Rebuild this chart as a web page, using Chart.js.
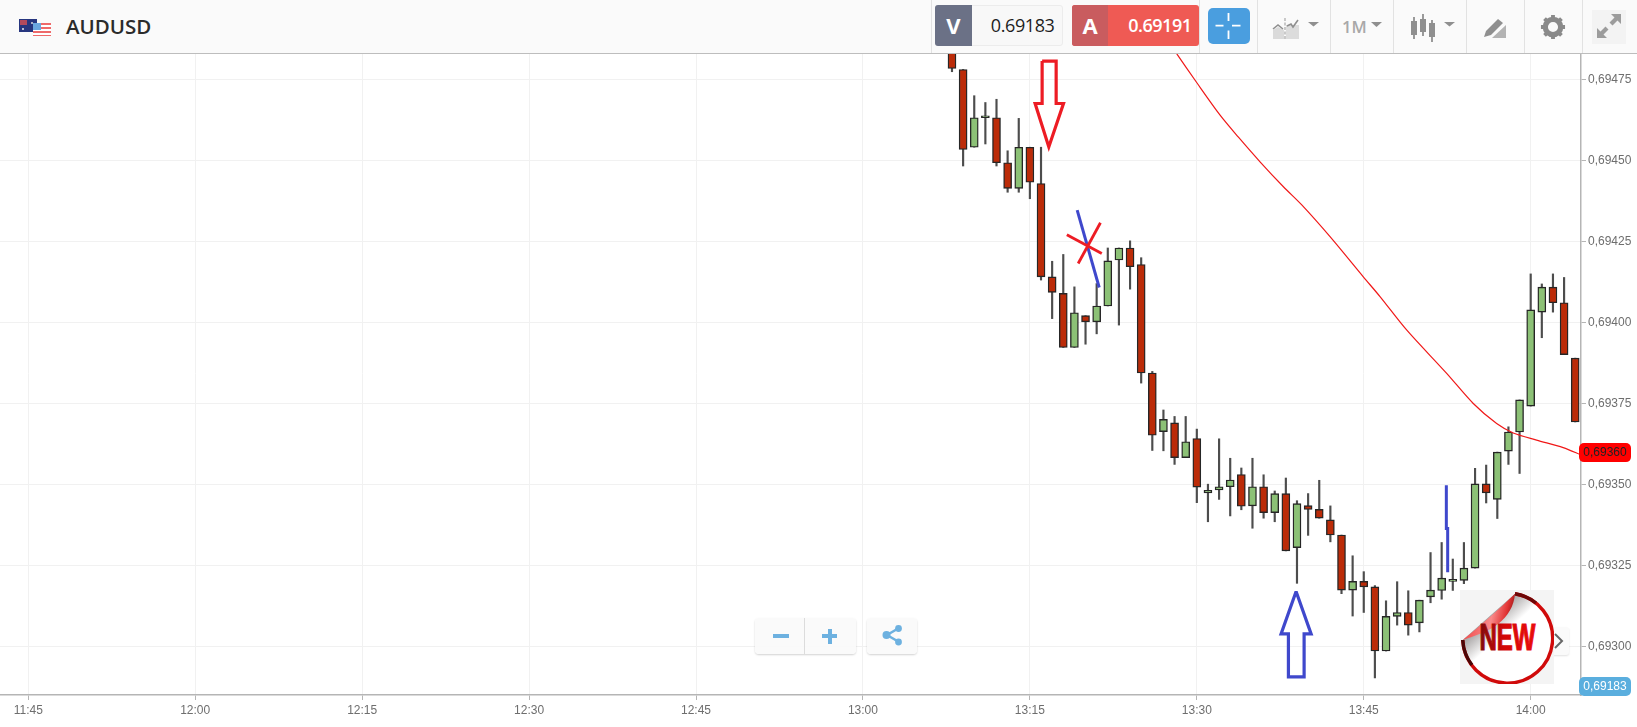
<!DOCTYPE html>
<html>
<head>
<meta charset="utf-8">
<title>AUDUSD</title>
<script src="https://cdn.jsdelivr.net/npm/chart.js@4"></script>
<style>
    html, body { margin: 0; padding: 0; background: #fff; width: 1637px; height: 727px; overflow: hidden; }
    canvas { position: absolute; left: 0; top: 0; }
    .ui { position: absolute; box-sizing: border-box; font-family: "Open Sans", sans-serif; }
    .sep { position: absolute; top: 0; width: 1px; height: 53px; background: #e2e2e2; }
    #bar { left: 0; top: 0; width: 1637px; height: 54px; background: #fafafa; border-bottom: 1px solid #bdbdbd; }
    #sym { left: 66px; top: 12px; font-size: 20.5px; font-weight: 600; color: #2b2b2b; }
</style>
</head>
<body>
<canvas id="chart" width="1637" height="727"></canvas>

<div class="ui" id="bar"></div>
<svg class="ui" style="left:18px;top:17px" width="36" height="21">
    <rect x="1" y="2" width="18" height="13" fill="#27367f"/>
    <rect x="2" y="3" width="7" height="5" fill="#b34a5c"/>
    <circle cx="14" cy="6" r="1" fill="#ddd"/><circle cx="5" cy="12" r="1" fill="#eee"/>
    <rect x="15" y="6" width="18" height="13" fill="#fff"/>
    <rect x="15" y="6" width="18" height="2" fill="#ee6a6a"/>
    <rect x="15" y="10" width="18" height="2" fill="#ee6a6a"/>
    <rect x="15" y="14" width="18" height="2" fill="#ee6a6a"/>
    <rect x="15" y="18" width="18" height="1" fill="#ee6a6a"/>
    <rect x="15" y="6" width="8" height="7" fill="#6aa7e0"/>
</svg>
<div class="ui" id="sym">AUDUSD</div>

<div class="sep" style="left:931px"></div>
<div class="ui" style="left:935px;top:5px;width:128px;height:41px;background:#f8f8f8;border:1px solid #ececec;border-radius:3px"></div>
<div class="ui" style="left:935px;top:5px;width:37px;height:41px;background:#6b7186;border-radius:3px 0 0 3px;color:#fff;font-size:22px;font-weight:700;text-align:center;line-height:41px">V</div>
<div class="ui" style="left:974px;top:5px;width:80.5px;height:41px;color:#1e1e1e;font-size:18px;letter-spacing:-.4px;text-align:right;line-height:40px">0.69183</div>
<div class="ui" style="left:1072px;top:5px;width:127px;height:41px;background:#ef5a54;border-radius:3px"></div>
<div class="ui" style="left:1072px;top:5px;width:36px;height:41px;background:#c95c5f;border-radius:3px 0 0 3px;color:#fff;font-size:22px;font-weight:700;text-align:center;line-height:41px">A</div>
<div class="ui" style="left:1109px;top:5px;width:82.5px;height:41px;color:#fff;font-size:18px;font-weight:600;letter-spacing:-.5px;text-align:right;line-height:40px">0.69191</div>
<div class="sep" style="left:1199px"></div>
<svg class="ui" style="left:1208px;top:8px" width="42" height="36">
    <rect width="42" height="36" rx="5" fill="#4a9edf"/>
    <path d="M20.5 5v8M20.5 22.5v8.5M7.5 17.7h8M24 17.7h8.5" stroke="#fff" stroke-width="1.8"/>
</svg>
<div class="sep" style="left:1257px"></div>
<svg class="ui" style="left:1272px;top:16px" width="50" height="26">
    <path d="M1 23v-9l5-3 6 3v9z" fill="#dadada"/><path d="M14 23V9h13v14z" fill="#dcdcdc"/>
    <path d="M1 13l5-4 5 4" stroke="#8f8f8f" stroke-width="1.6" fill="none"/>
    <path d="M15 10l4-2 2 3 5-7" stroke="#8f8f8f" stroke-width="1.6" fill="none"/>
    <path d="M13 2v22" stroke="#a8a8a8" stroke-width="1.2" stroke-dasharray="3 1.5"/>
    <path d="M36 6h11l-5.5 4.5z" fill="#8f8f8f"/>
</svg>
<div class="sep" style="left:1330px"></div>
<div class="ui" style="left:1342px;top:15px;font-size:16.5px;font-weight:600;color:#a8a8a8">1M</div>
<svg class="ui" style="left:1370px;top:21px" width="13" height="7"><path d="M1 1h11l-5.5 5z" fill="#8f8f8f"/></svg>
<div class="sep" style="left:1393px"></div>
<svg class="ui" style="left:1410px;top:13px" width="48" height="30">
    <path d="M4 4v22M13 1v22M22 7v22" stroke="#8f8f8f" stroke-width="1.8"/>
    <rect x="1" y="8" width="6" height="14" fill="#8f8f8f"/><rect x="10" y="6" width="6" height="13" fill="#8f8f8f"/><rect x="19" y="10" width="6" height="14" fill="#8f8f8f"/>
    <path d="M34 9h11l-5.500 4.500z" fill="#8f8f8f"/>
</svg>
<div class="sep" style="left:1466px"></div>
<svg class="ui" style="left:1483px;top:16px" width="26" height="24">
    <path d="M1 21l2-6L15 3l5 4-12 12z" fill="#8f8f8f"/>
    <path d="M9 22l14-13v13z" fill="#b3b3b3"/>
</svg>
<div class="sep" style="left:1524px"></div>
<svg class="ui" style="left:1540px;top:13.500px" width="26" height="26" viewBox="0 0 27 27">
    <circle cx="13.5" cy="13.5" r="8" fill="none" stroke="#8a8a8a" stroke-width="5.5"/>
    <path d="M13.5 1v4M13.5 22v4M1 13.5h4M22 13.5h4M4.7 4.7l2.8 2.8M19.5 19.5l2.8 2.8M22.3 4.7l-2.8 2.8M7.500 19.5l-2.8 2.8" stroke="#8a8a8a" stroke-width="4"/>
</svg>
<div class="sep" style="left:1582px"></div>
<div class="ui" style="left:1592px;top:10px;width:34px;height:34px;background:#f3f3f3"></div>
<svg class="ui" style="left:1595px;top:12px" width="28" height="28">
    <path d="M16 2h10v10l-3.500-3.500-5 5-3-3 5-5zM12 26H2V16l3.500 3.500 5-5 3 3-5 5z" fill="#9c9c9c"/>
</svg>

<div class="ui" style="left:755px;top:618px;width:101px;height:36px;background:rgba(250,250,250,.92);border-radius:4px;box-shadow:0 1px 2px rgba(0,0,0,.18)"></div>
<div class="ui" style="left:804px;top:618px;width:1px;height:36px;background:#dcdcdc"></div>
<div class="ui" style="left:773px;top:634px;width:16px;height:4px;background:#6db1e0"></div>
<div class="ui" style="left:822px;top:634px;width:15px;height:4px;background:#6db1e0"></div>
<div class="ui" style="left:827.5px;top:628.5px;width:4px;height:15px;background:#6db1e0"></div>
<div class="ui" style="left:867px;top:618px;width:50px;height:36px;background:rgba(250,250,250,.92);border-radius:4px;box-shadow:0 1px 2px rgba(0,0,0,.18)"></div>
<svg class="ui" style="left:880px;top:624px" width="24" height="24">
    <path d="M19 4L7 11l12 7" stroke="#6db1e0" stroke-width="2.5" fill="none"/>
    <circle cx="18.5" cy="4.5" r="3.4" fill="#6db1e0"/><circle cx="6.5" cy="11" r="4" fill="#6db1e0"/><circle cx="18.5" cy="18" r="3.4" fill="#6db1e0"/>
</svg>
<div class="ui" style="left:1540px;top:627px;width:29px;height:28px;background:#fafafa;border-radius:3px;box-shadow:0 1px 2px rgba(0,0,0,.12)"></div>
<svg class="ui" style="left:1552px;top:633px" width="14" height="16"><path d="M3 1l7 7-7 7" stroke="#666" stroke-width="2" fill="none"/></svg>

<svg class="ui" style="left:1460px;top:590px" width="94" height="94" viewBox="0 0 94 94">
    <defs>
        <linearGradient id="disc" x1="0.1" y1="0.15" x2="0.6" y2="0.7"><stop offset="0.2" stop-color="#8e8a8a"/><stop offset="0.62" stop-color="#fff"/></linearGradient>
        <linearGradient id="curl" x1="0" y1="0.4" x2="1" y2="0.6"><stop offset="0" stop-color="#ee3a3a"/><stop offset=".55" stop-color="#f98a8a"/><stop offset=".8" stop-color="#e23434"/><stop offset="1" stop-color="#7d0b0b"/></linearGradient>
        <linearGradient id="word" x1="0" y1="0" x2="1" y2="0"><stop offset="0" stop-color="#7f0a0a"/><stop offset=".45" stop-color="#d40808"/><stop offset="1" stop-color="#ea0c0c"/></linearGradient>
    </defs>
    <rect width="94" height="94" fill="#f4f4f4"/>
    <path d="M2.7 50A45 45 0 1 0 55 3.700z" fill="url(#disc)"/>
    <path d="M2.7 50A45 45 0 1 0 55 3.700" fill="none" stroke="#d00a0a" stroke-width="3.400"/>
    <path d="M2.7 50A45 45 0 0 0 12 75" fill="none" stroke="#4a0505" stroke-width="3.400"/>
    <path d="M55 3.700A45 45 0 0 1 76 13" fill="none" stroke="#6d0707" stroke-width="3.400"/>
    <path d="M2.7 50C20 36 38 20 55 3.700C54 16 48 26 38 34C28 42 14 46 2.7 50z" fill="url(#curl)"/>
    <text x="47.500" y="60" text-anchor="middle" font-family="Liberation Sans Narrow, Liberation Sans" font-weight="700" font-size="36" fill="url(#word)" stroke="url(#word)" stroke-width="1.200" textLength="56" lengthAdjust="spacingAndGlyphs">NEW</text>
</svg>

<script>
// candles, one per minute (minutes since midnight)
const candleMinutes = [788, 789, 790, 791, 792, 793, 794, 795, 796, 797, 798, 799, 800, 801, 802, 803, 804, 805, 806, 807, 808, 809, 810, 811, 812, 813, 814, 815, 816, 817, 818, 819, 820, 821, 822, 823, 824, 825, 826, 827, 828, 829, 830, 831, 832, 833, 834, 835, 836, 837, 838, 839, 840, 841, 842, 843, 844];
const opens = [0.69486, 0.694781, 0.694541, 0.694632, 0.694632, 0.694493, 0.694414, 0.694541, 0.694429, 0.694141, 0.69409, 0.693923, 0.694021, 0.694002, 0.694051, 0.694193, 0.69423, 0.694179, 0.693844, 0.693663, 0.69369, 0.693583, 0.693642, 0.693474, 0.693483, 0.693493, 0.693531, 0.693434, 0.693493, 0.693413, 0.693472, 0.693305, 0.693435, 0.693423, 0.693391, 0.693344, 0.693174, 0.693201, 0.693184, 0.692986, 0.693093, 0.693105, 0.693073, 0.693153, 0.693173, 0.693201, 0.693204, 0.693242, 0.693502, 0.693454, 0.693603, 0.693662, 0.693742, 0.694032, 0.694109, 0.694061, 0.69389];
const closes = [0.694784, 0.694534, 0.694632, 0.694632, 0.694493, 0.694414, 0.694541, 0.694433, 0.694141, 0.694093, 0.693923, 0.69403, 0.694002, 0.694051, 0.69419, 0.69423, 0.694172, 0.693844, 0.693652, 0.693701, 0.693583, 0.693632, 0.693492, 0.693482, 0.693493, 0.693514, 0.693433, 0.693493, 0.693413, 0.693472, 0.693295, 0.693441, 0.693423, 0.693396, 0.693344, 0.693174, 0.693201, 0.693184, 0.692986, 0.693093, 0.693105, 0.693066, 0.693143, 0.693174, 0.693211, 0.693201, 0.693242, 0.693502, 0.693474, 0.6936, 0.693662, 0.693761, 0.694039, 0.694109, 0.694061, 0.693901, 0.693693];
const highs = [0.69487, 0.694781, 0.6947, 0.694679, 0.694689, 0.69453, 0.69463, 0.694541, 0.694541, 0.694189, 0.69421, 0.69411, 0.694021, 0.69412, 0.69423, 0.69423, 0.694252, 0.6942, 0.693849, 0.69373, 0.69371, 0.69371, 0.693671, 0.693501, 0.693641, 0.693581, 0.693551, 0.693581, 0.69353, 0.69348, 0.69352, 0.69345, 0.693472, 0.693513, 0.693434, 0.693344, 0.69328, 0.693231, 0.693188, 0.693141, 0.6932, 0.693172, 0.693143, 0.69329, 0.693321, 0.69327, 0.693321, 0.69355, 0.69356, 0.6936, 0.693678, 0.693761, 0.69415, 0.694119, 0.69415, 0.694139, 0.69389];
const lows = [0.694774, 0.694483, 0.694541, 0.694551, 0.694483, 0.694402, 0.694402, 0.694382, 0.694131, 0.694012, 0.693923, 0.693923, 0.693933, 0.693965, 0.694051, 0.693992, 0.694103, 0.693813, 0.693605, 0.693604, 0.693562, 0.693583, 0.693444, 0.693385, 0.693454, 0.693403, 0.693422, 0.693365, 0.693396, 0.693385, 0.693295, 0.693195, 0.693343, 0.693396, 0.693323, 0.693163, 0.693094, 0.693105, 0.692903, 0.692986, 0.693066, 0.693035, 0.693045, 0.693135, 0.693146, 0.693173, 0.693194, 0.693242, 0.693443, 0.693395, 0.693562, 0.693534, 0.693742, 0.693953, 0.694032, 0.693901, 0.693693];

// moving average
const maMinutes = [808.2, 809.94, 812.09, 813.74, 815.68, 817.78, 819.43, 821.97, 824.96, 826.46, 828.85, 832.45, 834.84, 836.94, 838.43, 840.53, 842.92, 844.6];
const maValues = [0.694829, 0.694743, 0.69464, 0.694572, 0.694496, 0.694419, 0.694363, 0.694265, 0.694141, 0.69408, 0.693977, 0.693843, 0.69375, 0.693688, 0.693659, 0.693637, 0.693614, 0.69359];

// hand drawn marks on the chart
const redArrowX = [796.1, 797.36, 797.36, 798.02, 796.7, 795.47, 796.1, 796.1];
const redArrowY = [0.694807, 0.694807, 0.694676, 0.694676, 0.694542, 0.694676, 0.694676, 0.694807];
const blueArrowX = [818.92, 820.27, 819.64, 819.64, 818.23, 818.23, 817.57, 818.92];
const blueArrowY = [0.69317, 0.693039, 0.693039, 0.692906, 0.692906, 0.693039, 0.693039, 0.69317];
const blueSlashX = [799.25, 801.23];
const blueSlashY = [0.694347, 0.694108];
const redCrossAX = [798.32, 801.46];
const redCrossAY = [0.694271, 0.694213];
const redCrossBX = [799.34, 801.34];
const redCrossBY = [0.694182, 0.694308];
const blueBarX = [832.42, 832.42, 832.54, 832.54];
const blueBarY = [0.693498, 0.693364, 0.693364, 0.693229];

// axes
const xTicks = [705, 720, 735, 750, 765, 780, 795, 810, 825, 840];
const yTicks = [0.693, 0.69325, 0.6935, 0.69375, 0.694, 0.69425, 0.6945, 0.69475];
const lastPrice = 0.6936;
const bidPrice = 0.69183;

const axisText = "#6e6e6e";
const gridColor = "#f1f1f1";
const axisColor = "#b5b5b5";

function fmtTime(m) {
    return Math.floor(m / 60) + ":" + String(m % 60).padStart(2, "0");
}

function priceLabel(v) {
    return v.toFixed(5).replace(".", ",");
}

function zip(xs, ys) {
    return xs.map((x, i) => ({ x: x, y: ys[i] }));
}

function drawnMark(xs, ys, color, width, order) {
    return {
        type: "line",
        data: zip(xs, ys),
        borderColor: color,
        borderWidth: width,
        pointRadius: 0,
        tension: 0,
        order: order,
    };
}

// rounded price tags at the right of the y axis
const priceTags = {
    id: "priceTags",
    afterDraw(chart) {
        const c = chart.ctx;
        const s = chart.scales.y;
        const tag = function (value, bg, fg) {
            const y = Math.min(s.getPixelForValue(value), chart.chartArea.bottom - 9);
            c.save();
            c.fillStyle = bg;
            c.beginPath();
            c.roundRect(1579, y - 9, 52, 19, 5);
            c.fill();
            c.fillStyle = fg;
            c.font = "12px 'Liberation Sans'";
            c.textAlign = "center";
            c.textBaseline = "middle";
            c.fillText(priceLabel(value), 1605, y + 1);
            c.restore();
        };
        tag(lastPrice, "#ff0000", "#222");
        tag(bidPrice, "#5aaede", "#fff");
    },
};

new Chart(document.getElementById("chart").getContext("2d"), {
    type: "bar",
    data: {
        datasets: [
            {
                label: "wick",
                data: candleMinutes.map((m, i) => ({ x: m, y: [lows[i], highs[i]] })),
                backgroundColor: "#4d4d4d",
                barThickness: 1.5,
                borderWidth: 0,
                order: 6,
            },
            {
                label: "body",
                data: candleMinutes.map((m, i) => ({ x: m, y: [opens[i], closes[i]] })),
                backgroundColor: closes.map((c, i) => (c >= opens[i] ? "#8cc176" : "#bb2b08")),
                borderColor: "#262626",
                borderWidth: 1.4,
                borderSkipped: false,
                barThickness: 8,
                minBarLength: 2,
                order: 5,
            },
            {
                type: "line",
                label: "ma",
                data: zip(maMinutes, maValues),
                borderColor: "#f01818",
                borderWidth: 1.2,
                pointRadius: 0,
                tension: 0.3,
                order: 4,
            },
            drawnMark(redArrowX, redArrowY, "#ed1c24", 3.2, 3),
            drawnMark(blueArrowX, blueArrowY, "#3f48cc", 3.2, 3),
            drawnMark(blueBarX, blueBarY, "#3f48cc", 3, 3),
            drawnMark(blueSlashX, blueSlashY, "#3f48cc", 3, 2),
            drawnMark(redCrossAX, redCrossAY, "#ed1c24", 2.8, 1),
            drawnMark(redCrossBX, redCrossBY, "#ed1c24", 2.8, 1),
        ],
    },
    options: {
        responsive: false,
        animation: false,
        grouped: false,
        layout: { padding: { top: 53, left: 0, right: 0, bottom: 0 } },
        plugins: { legend: { display: false }, tooltip: { enabled: false } },
        scales: {
            x: {
                type: "linear",
                offset: false,
                min: 702.46,
                max: 844.52,
                afterFit: function (scale) {
                    scale.height = 32;
                },
                afterBuildTicks: function (scale) {
                    scale.ticks = xTicks.map((v) => ({ value: v }));
                },
                grid: { offset: false, color: gridColor, tickColor: axisColor, tickLength: 5 },
                border: { color: axisColor, width: 1.5 },
                ticks: {
                    autoSkip: false,
                    maxRotation: 0,
                    padding: 3,
                    color: axisText,
                    font: { family: "Liberation Sans", size: 12 },
                    callback: fmtTime,
                },
            },
            y: {
                position: "right",
                min: 0.6928503,
                max: 0.6948318,
                afterFit: function (scale) {
                    scale.width = 56;
                },
                afterBuildTicks: function (scale) {
                    scale.ticks = yTicks.map((v) => ({ value: v }));
                },
                grid: { color: gridColor, tickColor: axisColor, tickLength: 5 },
                border: { color: axisColor, width: 1.5 },
                ticks: {
                    autoSkip: false,
                    padding: 2,
                    color: axisText,
                    font: { family: "Liberation Sans", size: 12 },
                    callback: priceLabel,
                },
            },
        },
    },
    plugins: [priceTags],
});
</script>
</body>
</html>
